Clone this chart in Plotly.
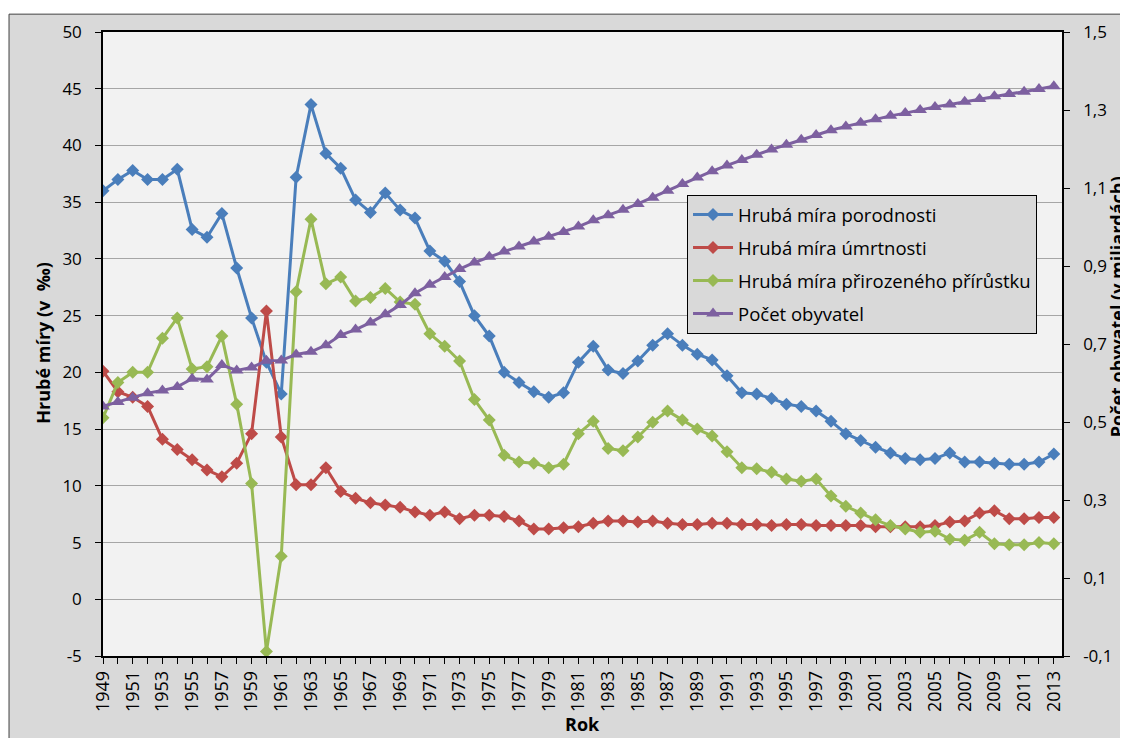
import plotly.graph_objects as go

years = list(range(1949, 2014))

porodnost = [
    36.0, 37.0, 37.8, 37.0, 37.0, 37.9, 32.6, 31.9, 34.0, 29.2,
    24.8, 20.9, 18.1, 37.2, 43.6, 39.3, 38.0, 35.2, 34.1, 35.8,
    34.3, 33.6, 30.7, 29.8, 28.0, 25.0, 23.2, 20.0, 19.1, 18.3,
    17.8, 18.2, 20.9, 22.3, 20.2, 19.9, 21.0, 22.4, 23.4, 22.4,
    21.6, 21.1, 19.7, 18.2, 18.1, 17.7, 17.2, 17.0, 16.6, 15.7,
    14.6, 14.0, 13.4, 12.9, 12.4, 12.3, 12.4, 12.9, 12.1, 12.1,
    12.0, 11.9, 11.9, 12.1, 12.8,
]

umrtnost = [
    20.1, 18.3, 17.8, 17.0, 14.1, 13.2, 12.3, 11.4, 10.8, 12.0,
    14.6, 25.4, 14.3, 10.1, 10.1, 11.6, 9.5, 8.9, 8.5, 8.3,
    8.1, 7.7, 7.4, 7.7, 7.1, 7.4, 7.4, 7.3, 6.9, 6.2,
    6.2, 6.3, 6.4, 6.7, 6.9, 6.9, 6.8, 6.9, 6.7, 6.6,
    6.6, 6.7, 6.7, 6.6, 6.6, 6.5, 6.6, 6.6, 6.5, 6.5,
    6.5, 6.5, 6.4, 6.4, 6.4, 6.4, 6.5, 6.8, 6.9, 7.6,
    7.8, 7.1, 7.1, 7.2, 7.2,
]

prirustek = [
    16.0, 19.1, 20.0, 20.0, 23.0, 24.8, 20.3, 20.5, 23.2, 17.2,
    10.2, -4.6, 3.8, 27.1, 33.5, 27.8, 28.4, 26.3, 26.6, 27.4,
    26.2, 26.0, 23.4, 22.3, 21.0, 17.6, 15.8, 12.7, 12.1, 12.0,
    11.6, 11.9, 14.6, 15.7, 13.3, 13.1, 14.3, 15.6, 16.6, 15.8,
    15.0, 14.4, 13.0, 11.6, 11.5, 11.2, 10.6, 10.4, 10.6, 9.1,
    8.2, 7.6, 7.0, 6.5, 6.2, 5.9, 6.0, 5.3, 5.2, 5.9,
    4.9, 4.8, 4.8, 5.0, 4.9,
]

obyvatel = [
    0.540, 0.551, 0.562, 0.574, 0.581, 0.590, 0.611, 0.609, 0.646, 0.632,
    0.640, 0.657, 0.658, 0.673, 0.680, 0.697, 0.723, 0.737, 0.755, 0.776,
    0.800, 0.830, 0.852, 0.872, 0.892, 0.909, 0.924, 0.937, 0.950, 0.963,
    0.975, 0.987, 1.001, 1.017, 1.030, 1.044, 1.059, 1.075, 1.093, 1.110,
    1.127, 1.143, 1.158, 1.172, 1.185, 1.199, 1.211, 1.224, 1.236, 1.248,
    1.258, 1.267, 1.276, 1.285, 1.292, 1.300, 1.308, 1.314, 1.321, 1.328,
    1.335, 1.341, 1.347, 1.354, 1.361,
]

x_labels = [str(y) if (y - 1949) % 2 == 0 else "" for y in years]
y_ticks = [-5, 0, 5, 10, 15, 20, 25, 30, 35, 40, 45, 50]
y_labels = ["-5", "0", "5", "10", "15", "20", "25", "30", "35", "40", "45", "50"]
y2_ticks = [-0.1, 0.1, 0.3, 0.5, 0.7, 0.9, 1.1, 1.3, 1.5]
y2_labels = ["-0,1", "0,1", "0,3", "0,5", "0,7", "0,9", "1,1", "1,3", "1,5"]

font_name = "Open Sans, Noto Sans, sans-serif"

fig = go.Figure()

def add_series(y, name, color, symbol, axis='y', size=10):
    fig.add_trace(go.Scatter(
        x=years,
        y=y,
        name=name,
        yaxis=axis,
        mode='lines+markers',
        line=dict(color=color, width=3),
        marker=dict(symbol=symbol, size=size, color=color),
        legendgroup=name,
    ))

add_series(porodnost, "Hrubá míra porodnosti", "#4a7ebb", "diamond")
add_series(umrtnost, "Hrubá míra úmrtnosti", "#be4b48", "diamond")
add_series(prirustek, "Hrubá míra přirozeného přírůstku", "#98b954", "diamond")
add_series(obyvatel, "Počet obyvatel", "#7d60a0", "triangle-up", axis='y2', size=12)

# the page puts the figure 8px in from the top left, so size is reduced by that
fig.update_layout(
    width=1120,
    height=730,
    margin=dict(l=95, r=66, t=19, b=82),
    paper_bgcolor="white",
    plot_bgcolor="#f2f2f2",
    font=dict(family=font_name, size=17, color="black"),
    showlegend=True,
    legend=dict(
        x=0.609, y=0.739,
        xanchor='left', yanchor='top',
        bgcolor="#d9d9d9",
        bordercolor="black",
        borderwidth=1,
        font=dict(size=18.5),
        tracegroupgap=6,
        traceorder='grouped',
        itemwidth=40,
    ),
    xaxis=dict(
        range=[1949, 2013.55],
        tickmode='array',
        tickvals=years,
        ticktext=x_labels,
        tickangle=-90,
        ticks='outside',
        ticklen=6,
        tickcolor='black',
        tickfont=dict(size=18),
        showgrid=False,
        showline=True,
        linecolor='black',
        linewidth=1.5,
        mirror=True,
        zeroline=False,
    ),
    yaxis=dict(
        range=[-5, 50],
        tickmode='array',
        tickvals=y_ticks,
        ticktext=y_labels,
        ticks='outside',
        ticklen=6,
        tickcolor='black',
        ticklabelstandoff=10,
        showgrid=True,
        gridcolor="#a6a6a6",
        gridwidth=1,
        showline=True,
        linecolor='black',
        linewidth=1.5,
        zeroline=False,
    ),
    yaxis2=dict(
        range=[-0.1, 1.5],
        tickmode='array',
        tickvals=y2_ticks,
        ticktext=y2_labels,
        overlaying='y',
        side='right',
        ticks='outside',
        ticklen=6,
        tickcolor='black',
        ticklabelstandoff=10,
        showgrid=False,
        showline=True,
        linecolor='black',
        linewidth=1.5,
        zeroline=False,
    ),
)

# grey chart area with a frame, and light plot area on top of it
fig.add_shape(type='rect', xref='paper', yref='paper',
              x0=-0.098, x1=1.2, y0=-0.3, y1=1.0286,
              fillcolor="#d9d9d9", line=dict(color="#404040", width=1), layer='below')
fig.add_shape(type='rect', xref='paper', yref='paper',
              x0=0, x1=1, y0=0, y1=1,
              fillcolor="#f2f2f2", line=dict(width=0), layer='below')

fig.add_annotation(text="<b>Hrubé míry (v\u00a0 ‰)</b>", xref='paper', yref='paper',
                   x=-0.0626, y=0.502, textangle=-90, showarrow=False,
                   xanchor='center', yanchor='middle', font=dict(size=18))
fig.add_annotation(text="<b>Počet obyvatel (v miliardách)</b>", xref='paper', yref='paper',
                   x=1.057, y=0.56, textangle=-90, showarrow=False,
                   xanchor='center', yanchor='middle', font=dict(size=18))
fig.add_annotation(text="<b>Rok</b>", xref='paper', yref='paper',
                   x=0.5, y=-0.1097, showarrow=False,
                   xanchor='center', yanchor='middle', font=dict(size=18))

fig.write_html("out.html")
